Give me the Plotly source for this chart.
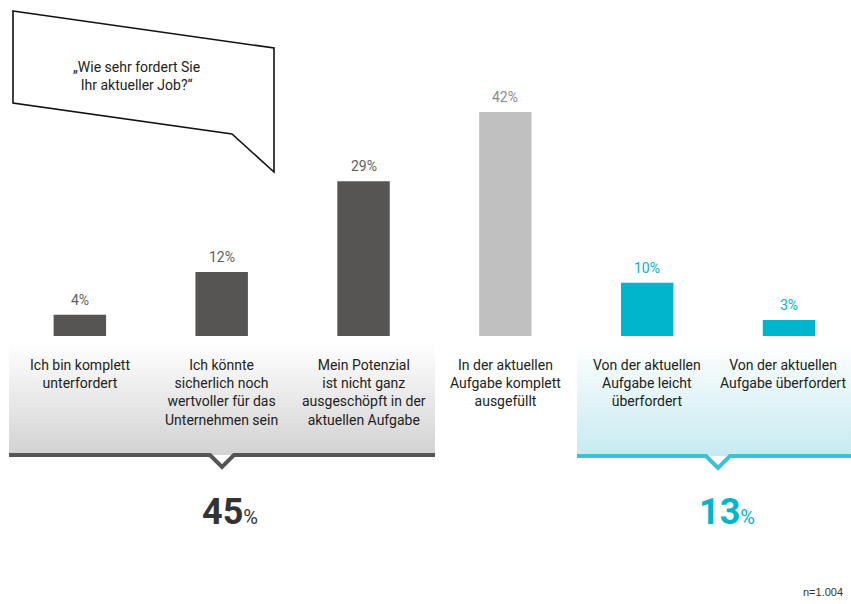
import plotly.graph_objects as go

# ---------------- data ----------------
categories = [
    "Ich bin komplett<br>unterfordert",
    "Ich könnte<br>sicherlich noch<br>wertvoller für das<br>Unternehmen sein",
    "Mein Potenzial<br>ist nicht ganz<br>ausgeschöpft in der<br>aktuellen Aufgabe",
    "In der aktuellen<br>Aufgabe komplett<br>ausgefüllt",
    "Von der aktuellen<br>Aufgabe leicht<br>überfordert",
    "Von der aktuellen<br>Aufgabe überfordert",
]
values = [4, 12, 29, 42, 10, 3]
value_labels = ["4%", "12%", "29%", "42%", "10%", "3%"]
bar_colors = ["#575553", "#575553", "#575553", "#c0c0c0", "#00b5cc", "#00b5cc"]
label_colors = ["#5e5e5e", "#5e5e5e", "#5e5e5e", "#8a8a8a", "#00b5cc", "#00b5cc"]
group_totals = ["45", "13"]
question = "„Wie sehr fordert Sie<br>Ihr aktueller Job?“"
sample_note = "n=1.004"

COND = "Roboto, Liberation Sans, sans-serif"

W, H = 851, 604
fig = go.Figure()

fig.add_trace(go.Bar(
    x=categories, y=values, marker=dict(color=bar_colors, line=dict(width=0)),
    width=0.37, hoverinfo="skip", showlegend=False,
))

# gradient bands (pixel overlay axes)
fig.add_trace(go.Scatter(
    x=[9, 435, 435, 9, 9], y=[343, 343, 455, 455, 343], xaxis="x2", yaxis="y2",
    mode="none", fill="toself", showlegend=False, hoverinfo="skip",
    fillgradient=dict(type="vertical", start=343, stop=455,
                      colorscale=[[0, "#ffffff"], [1, "#d2d2d2"]]),
))
fig.add_trace(go.Scatter(
    x=[577, 851, 851, 577, 577], y=[343, 343, 456, 456, 343], xaxis="x2", yaxis="y2",
    mode="none", fill="toself", showlegend=False, hoverinfo="skip",
    fillgradient=dict(type="vertical", start=343, stop=456,
                      colorscale=[[0, "#ffffff"], [1, "#c6eaf1"]]),
))

shapes = [
    dict(type="path", xref="x2", yref="y2",
         path="M9,455 L210,455 L222,467 L234,455 L435,455",
         line=dict(color="#555555", width=4)),
    dict(type="path", xref="x2", yref="y2",
         path="M577,456 L706,456 L718,468 L730,456 L851,456",
         line=dict(color="#3cc0d4", width=4)),
    dict(type="path", xref="x2", yref="y2",
         path="M13,11 L274,48 L274,172 L232,134 L13,103 Z",
         line=dict(color="#111111", width=1.6), fillcolor="white"),
]

annotations = []
for i, (c, v, lab, col) in enumerate(zip(categories, values, value_labels, label_colors)):
    annotations.append(dict(x=c, y=v, xref="x", yref="y", text=lab, showarrow=False,
                            yanchor="bottom", yshift=5,
                            font=dict(family=COND, size=14, color=col)))
    annotations.append(dict(x=c, y=0, xref="x", yref="y", text=c, showarrow=False,
                            yanchor="top", yshift=-19, align="center",
                            xshift=-6 if i == 5 else 0,
                            font=dict(family=COND, size=14, color="#222222")))

annotations.append(dict(x=136, y=76, xref="x2", yref="y2", text=question, showarrow=False,
                        align="center", font=dict(family=COND, size=14, color="#222222")))

for tx, total, col in [(230, group_totals[0], "#333333"), (727, group_totals[1], "#00b5cc")]:
    annotations.append(dict(
        x=tx, y=512, xref="x2", yref="y2", showarrow=False,
        text=f"<b>{total}</b><span style='font-size:20px'>%</span>",
        font=dict(family=COND, size=36, color=col)))

annotations.append(dict(x=845, y=592, xref="x2", yref="y2", text=sample_note,
                        showarrow=False, xanchor="right",
                        font=dict(family="Liberation Sans, Arial, sans-serif", size=11, color="#333333")))

fig.update_layout(
    width=W, height=H, margin=dict(l=0, r=0, t=0, b=0),
    paper_bgcolor="white", plot_bgcolor="white",
    xaxis=dict(range=[-0.563, 5.437], visible=False, fixedrange=True),
    yaxis=dict(range=[-50.25, 63.0], visible=False, fixedrange=True),
    xaxis2=dict(range=[0, W], overlaying="x", visible=False, fixedrange=True),
    yaxis2=dict(range=[H, 0], overlaying="y", visible=False, fixedrange=True),
    shapes=shapes, annotations=annotations, showlegend=False,
)

fig.write_html("out.html")
